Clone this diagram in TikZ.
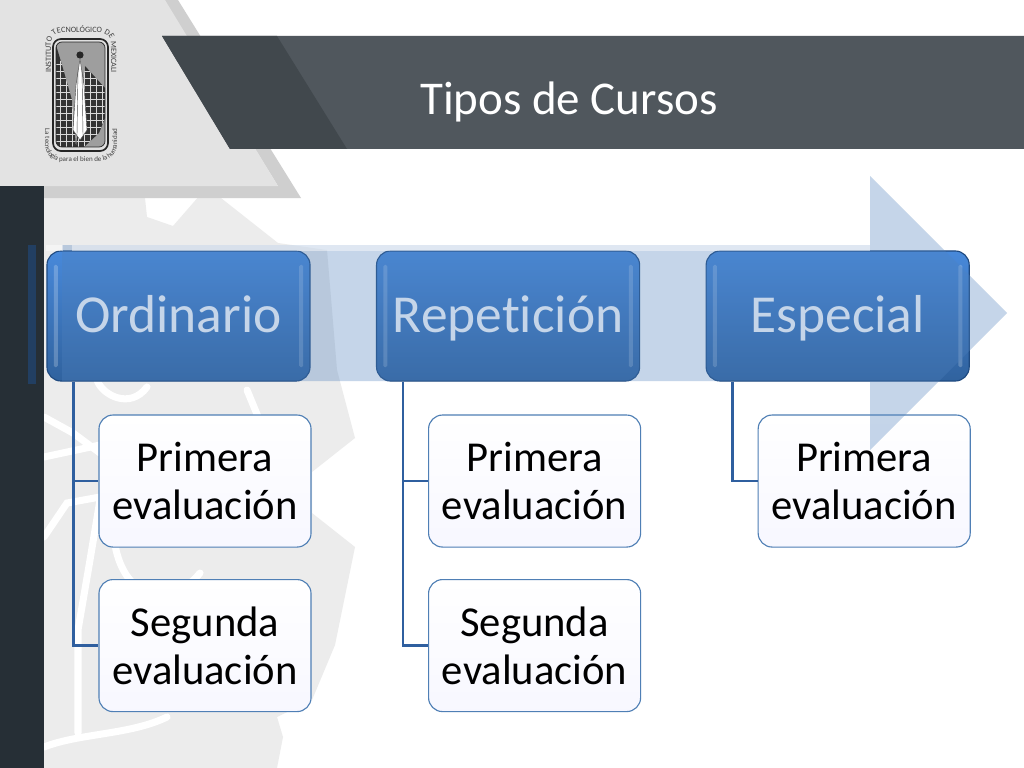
\documentclass[tikz,border=0pt]{standalone}
\usepackage{fontspec}
\setmainfont[Ligatures=NoCommon]{Carlito}
\usetikzlibrary{shapes.geometric, arrows, decorations.text}
\definecolor{barlight}{HTML}{50575D}
\definecolor{bardark}{HTML}{41484D}
\definecolor{stripdark}{HTML}{262F36}
\definecolor{watermark}{HTML}{ECECEC}
\definecolor{boxtop}{HTML}{4889DA}
\definecolor{boxbottom}{HTML}{30629E}
\definecolor{boxline}{HTML}{1F4A80}
\definecolor{childline}{HTML}{4F7FB5}
\definecolor{connline}{HTML}{2F5F9F}
\definecolor{arrowfill}{HTML}{4F81BD}
\tikzstyle{tipo} = [rectangle, rounded corners=0.35cm, minimum width=6.575cm, minimum height=3.25cm, text centered, draw=boxline, line width=0.8pt, top color=boxtop, bottom color=boxbottom, text=white, text height=1cm, text depth=0.2cm, font=\fontsize{38}{42}\selectfont,
  path picture={\fill [white, fill opacity=0.22, rounded corners=1pt] ([xshift=0.17cm,yshift=-0.35cm]path picture bounding box.north west) rectangle ([xshift=0.27cm,yshift=0.35cm]path picture bounding box.south west);
  \fill [white, fill opacity=0.22, rounded corners=1pt] ([xshift=-0.17cm,yshift=-0.35cm]path picture bounding box.north east) rectangle ([xshift=-0.27cm,yshift=0.35cm]path picture bounding box.south east);}]
\tikzstyle{evaluacion} = [rectangle, rounded corners=0.35cm, minimum width=5.3cm, minimum height=3.3cm, text width=5cm, align=center, draw=childline, line width=0.8pt, top color=white, bottom color=blue!3, text=black, font=\fontsize{30.3}{34}\selectfont]
\tikzstyle{conn} = [line width=1.8pt, draw=connline]
\tikzstyle{sello} = [decorate, decoration={text along path, text align=center, text color=black!75}]
\begin{document}
\begin{tikzpicture}[x=0.025cm, y=-0.025cm, node distance=1cm]
\useasboundingbox (0,0) rectangle (1024,768);
% Background triangle and strip
\fill [white] (0,0) rectangle (1024,768);
\fill [watermark] (44,198) -- (145,198) -- (147,217) -- (173,226) -- (207,187) -- (278,243) -- (327,250) -- (337,370) -- (355,438) -- (312,472) -- (312,513) -- (355,547) -- (335,645) -- (312,700) -- (277,717) -- (283,737) -- (277,768) -- (44,768) -- cycle;
\draw [white, line width=5pt, line cap=round] (44,417) -- (73,433) -- (100,453);
\draw [white, line width=5pt, line cap=round] (44,457) -- (100,445);
\draw [white, line width=5pt, line cap=round] (44,537) -- (67,503) -- (100,497);
\draw [white, line width=5pt, line cap=round] (78,733) -- (78,630) -- (90,560) -- (100,500);
\draw [white, line width=5pt, line cap=round] (44,747) .. controls (80,733) and (130,735) .. (167,717);
\draw [white, line width=5pt, line cap=round] (97,380) .. controls (102,395) and (130,410) .. (147,387);
\draw [white, line width=5pt, line cap=round] (115,545) .. controls (125,600) and (170,610) .. (200,573);
\draw [white, line width=5pt, line cap=round] (247,390) -- (273,453);
\fill [black!19] (163,0) -- (178,0) -- (301,198) -- (44,198) -- (44,186) -- (278,186) -- cycle;
\fill [black!11] (0,0) -- (165,0) -- (278,186) -- (0,186) -- cycle;
\fill [stripdark] (0,186) rectangle (44,768);

% Title bar
\fill [barlight] (162,36) -- (1024,36) -- (1024,149) -- (230,149) -- cycle;
\fill [bardark] (162,36) -- (277,36) -- (347,149) -- (230,149) -- cycle;
\node (titulo) at (569,102) [text=white, font=\fontsize{33.4}{36}\selectfont] {Tipos de Cursos};

% Seal
\draw [black!85, line width=1.2pt, fill=white!88!black, rounded corners=0.2cm] (53,39) rectangle (108,151);
\begin{scope}
\clip [rounded corners=0.15cm] (56,42) rectangle (105,147);
\fill [black!38] (56,42) rectangle (105,147);
\fill [black!80] (56,45) -- (62,65) -- (72,100) -- (76,147) -- (56,147) -- cycle;
\fill [black!80] (85,66) -- (105,88) -- (105,118) -- (99,133) -- (84,147) -- (76,147) -- cycle;
\clip (56,45) -- (62,65) -- (72,100) -- (76,147) -- (56,147) -- cycle (85,66) -- (105,88) -- (105,118) -- (99,133) -- (84,147) -- (76,147) -- cycle;
\foreach \x in {60,66,...,104} \draw [white!85!black, line width=0.35pt] (\x,45) -- (\x,147);
\foreach \y in {64,71,...,147} \draw [white!85!black, line width=0.35pt] (56,\y) -- (105,\y);
\end{scope}
\draw [black!85, line width=0.5pt, rounded corners=0.15cm] (56,42) rectangle (105,147);
\fill [black!85] (80,55) circle (3.6);
\draw [black!70, fill=white, line width=0.3pt] (80,59) -- (76,85) -- (73,130) -- (80,140) -- (87,130) -- (84,85) -- cycle;
\draw [black!70, line width=0.3pt] (78,70) -- (77,135);
\draw [black!70, line width=0.3pt] (82,70) -- (83,135);
\path [sello, decoration={text={|\fontsize{5.8}{7}\selectfont|INSTITUTO TECNOLÓGICO DE MEXICALI}}] (51,93) -- (51,45) .. controls (51,37) and (56,33) .. (62,33) -- (100,33) .. controls (107,33) and (111,37) .. (111,45) -- (111,93);
\path [sello, decoration={text={|\fontsize{5}{6}\selectfont|La tecnología para el bien de la humanidad}}] (45,103) -- (45,145) .. controls (45,153) and (52,161) .. (60,161) -- (100,161) .. controls (110,161) and (117,153) .. (117,145) -- (117,103);

% Main boxes
\node (ordinario) at (178.5,316) [tipo] {Ordinario};
\node (repeticion) [tipo, right of=ordinario, xshift=7.2375cm] {Repetición};
\node (especial) [tipo, right of=repeticion, xshift=7.2375cm] {Especial};

% Children
\node (ordprimera) [evaluacion, below of=ordinario, xshift=0.6625cm, yshift=-3.125cm] {Primera evaluación};
\node (ordsegunda) [evaluacion, below of=ordprimera, yshift=-3.1125cm] {Segunda evaluación};
\node (repprimera) [evaluacion, below of=repeticion, xshift=0.6625cm, yshift=-3.125cm] {Primera evaluación};
\node (repsegunda) [evaluacion, below of=repprimera, yshift=-3.1125cm] {Segunda evaluación};
\node (espprimera) [evaluacion, below of=especial, xshift=0.6625cm, yshift=-3.125cm] {Primera evaluación};

% Connectors
\draw [conn] ([xshift=0.675cm]ordinario.south west) |- (ordprimera.west);
\draw [conn] ([xshift=0.675cm]ordinario.south west) |- (ordsegunda.west);
\draw [conn] ([xshift=0.675cm]repeticion.south west) |- (repprimera.west);
\draw [conn] ([xshift=0.675cm]repeticion.south west) |- (repsegunda.west);
\draw [conn] ([xshift=0.675cm]especial.south west) |- (espprimera.west);

% Big arrow lies over the boxes
\fill [arrowfill, fill opacity=0.33] (62,245) -- (870,245) -- (870,176) -- (1007,313) -- (870,450) -- (870,381) -- (62,381) -- cycle;
\fill [white, fill opacity=0.45] (46,245) rectangle (63,251);
\fill [white, fill opacity=0.45] (72,245) rectangle (870,251);
\fill [boxline!60!stripdark] (28,245) rectangle (36,384);
\end{tikzpicture}
\end{document}
